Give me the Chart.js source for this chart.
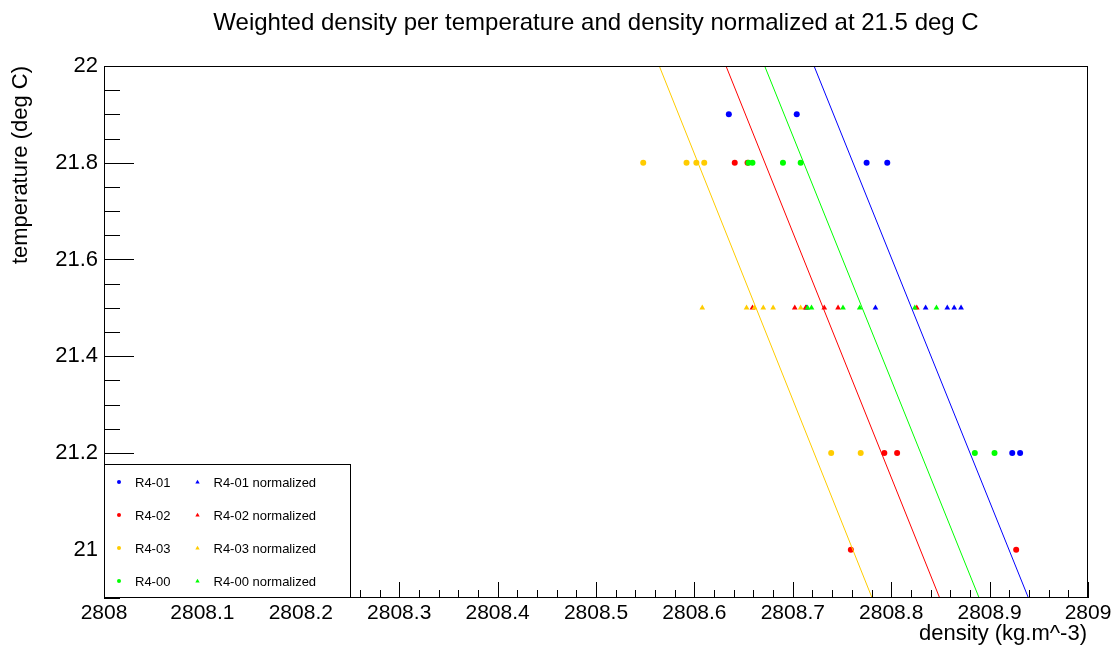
<!DOCTYPE html>
<html>
<head>
<meta charset="utf-8">
<script src="https://cdn.jsdelivr.net/npm/chart.js@4.4.1/dist/chart.umd.min.js"></script>
<style>
  html, body { margin: 0; padding: 0; background: #fff; }
  canvas { display: block; }
</style>
</head>
<body>
<canvas id="chart" width="1115" height="647"></canvas>
<script>
// sensor names, in legend order
const sensors = ["R4-01", "R4-02", "R4-03", "R4-00"];

// measured points: density (kg.m^-3) and temperature (deg C)
const r401Density = [2808.635, 2808.704, 2808.775, 2808.796, 2808.923, 2808.931];
const r401Temp = [21.9, 21.9, 21.8, 21.8, 21.2, 21.2];
const r402Density = [2808.641, 2808.654, 2808.793, 2808.806, 2808.759, 2808.927];
const r402Temp = [21.8, 21.8, 21.2, 21.2, 21.0, 21.0];
const r403Density = [2808.548, 2808.592, 2808.602, 2808.610, 2808.739, 2808.769];
const r403Temp = [21.8, 21.8, 21.8, 21.8, 21.2, 21.2];
const r400Density = [2808.655, 2808.659, 2808.690, 2808.708, 2808.885, 2808.905];
const r400Temp = [21.8, 21.8, 21.8, 21.8, 21.2, 21.2];

// normalized to 21.5 deg C
const normTemp = [21.5, 21.5, 21.5, 21.5, 21.5, 21.5];
const r401NormDensity = [2808.714, 2808.784, 2808.835, 2808.857, 2808.864, 2808.871];
const r402NormDensity = [2808.659, 2808.702, 2808.713, 2808.732, 2808.746, 2808.826];
const r403NormDensity = [2808.608, 2808.653, 2808.661, 2808.670, 2808.680, 2808.708];
const r400NormDensity = [2808.715, 2808.719, 2808.751, 2808.768, 2808.824, 2808.846];

// fitted lines, density at the two temperatures of fitTemp
const fitTemp = [22, 20.9];
const r401Fit = [2808.7216, 2808.9395];
const r402Fit = [2808.6321, 2808.8493];
const r403Fit = [2808.5643, 2808.7806];
const r400Fit = [2808.6714, 2808.8894];

// axis ticks
const xTickLabels = ["2808", "2808.1", "2808.2", "2808.3", "2808.4", "2808.5", "2808.6", "2808.7", "2808.8", "2808.9", "2809"];
const yTickLabels = ["21", "21.2", "21.4", "21.6", "21.8", "22"];

const sensorColors = ["#0000ff", "#ff0000", "#ffcc00", "#00ff00"];
const FONT = "'Liberation Sans', Arial, Helvetica, sans-serif";

const series = [
  { density: r401Density, temp: r401Temp, norm: r401NormDensity, fit: r401Fit },
  { density: r402Density, temp: r402Temp, norm: r402NormDensity, fit: r402Fit },
  { density: r403Density, temp: r403Temp, norm: r403NormDensity, fit: r403Fit },
  { density: r400Density, temp: r400Temp, norm: r400NormDensity, fit: r400Fit }
];

const datasets = [];
series.forEach((s, i) => {
  const c = sensorColors[i];
  datasets.push({
    label: sensors[i],
    data: s.density.map((d, k) => ({ x: d, y: s.temp[k] })),
    pointStyle: "circle",
    pointRadius: 3,
    backgroundColor: c,
    borderColor: c,
    borderWidth: 0,
    showLine: false,
    order: 20 - 2 * i,
    inLegend: true
  });
  datasets.push({
    label: sensors[i] + " normalized",
    data: s.norm.map((d, k) => ({ x: d, y: normTemp[k] })),
    pointStyle: "triangle",
    pointRadius: 3.3,
    backgroundColor: c,
    borderColor: c,
    borderWidth: 0,
    showLine: false,
    order: 19 - 2 * i,
    inLegend: true
  });
  datasets.push({
    label: sensors[i] + " fit",
    data: fitTemp.map((t, k) => ({ x: s.fit[k], y: t })),
    showLine: true,
    pointRadius: 0,
    borderColor: c,
    borderWidth: 1,
    order: 4 - i
  });
});

function drawMarker(ctx, style, x, y, r, color) {
  ctx.fillStyle = color;
  ctx.beginPath();
  if (style === "triangle") {
    ctx.moveTo(x, y - r);
    ctx.lineTo(x + r * 0.95, y + r * 0.6);
    ctx.lineTo(x - r * 0.95, y + r * 0.6);
    ctx.closePath();
  } else {
    ctx.arc(x, y, r, 0, Math.PI * 2);
  }
  ctx.fill();
}

// ROOT-like frame, inner ticks, titles and boxed legend
const rootStyle = {
  id: "rootStyle",
  afterDraw(chart) {
    const { ctx, chartArea: a, scales: { x, y } } = chart;
    ctx.save();

    // x ticks pointing up
    ctx.strokeStyle = "#000";
    ctx.lineWidth = 1;
    const xStep = 0.02;
    const nx = Math.round((x.max - x.min) / xStep);
    for (let k = 0; k <= nx; k++) {
      const px = Math.round(x.getPixelForValue(x.min + k * xStep)) + 0.5;
      const len = k % 5 === 0 ? 16 : 8;
      ctx.beginPath();
      ctx.moveTo(px, a.bottom);
      ctx.lineTo(px, a.bottom - len);
      ctx.stroke();
    }
    // y ticks pointing right
    const yStep = 0.05;
    const ny = Math.round((y.max - y.min) / yStep);
    for (let k = 0; k <= ny; k++) {
      const v = y.min + k * yStep;
      const py = Math.round(y.getPixelForValue(v)) + 0.5;
      const major = Math.abs(v / 0.2 - Math.round(v / 0.2)) < 1e-6;
      ctx.beginPath();
      ctx.moveTo(a.left, py);
      ctx.lineTo(a.left + (major ? 30 : 16), py);
      ctx.stroke();
    }

    // frame
    ctx.strokeRect(a.left + 0.5, a.top + 0.5, a.right - a.left - 1, a.bottom - a.top - 1);

    // titles
    ctx.fillStyle = "#000";
    ctx.font = "24px " + FONT;
    ctx.textAlign = "center";
    ctx.textBaseline = "alphabetic";
    ctx.fillText("Weighted density per temperature and density normalized at 21.5 deg C", (a.left + a.right) / 2, 30);
    ctx.font = "22px " + FONT;
    ctx.textAlign = "right";
    ctx.fillText("density (kg.m^-3)", a.right - 1, 640);
    ctx.save();
    ctx.translate(27, a.top);
    ctx.rotate(-Math.PI / 2);
    ctx.textAlign = "right";
    ctx.fillText("temperature (deg C)", 0, 0);
    ctx.restore();

    // legend box
    const lx = 104.5, ly = 464.5, lw = 246, lh = 133;
    ctx.fillStyle = "#fff";
    ctx.fillRect(lx, ly, lw, lh);
    ctx.strokeStyle = "#000";
    ctx.strokeRect(lx, ly, lw, lh);
    ctx.font = "13px " + FONT;
    ctx.textAlign = "left";
    ctx.textBaseline = "middle";
    const items = chart.data.datasets.filter(d => d.inLegend);
    items.forEach((d, i) => {
      const row = Math.floor(i / 2), col = i % 2;
      const cy = 482 + row * 33;
      const mx = col === 0 ? 119 : 197.5;
      const tx = col === 0 ? 135 : 213.5;
      drawMarker(ctx, d.pointStyle, mx, cy, d.pointStyle === "triangle" ? 2.3 : 2, d.backgroundColor);
      ctx.fillStyle = "#000";
      ctx.fillText(d.label, tx, cy + 1);
    });

    ctx.restore();
  }
};

new Chart(document.getElementById("chart").getContext("2d"), {
  type: "scatter",
  data: { datasets },
  options: {
    responsive: false,
    animation: false,
    devicePixelRatio: 1,
    layout: { padding: { top: 66, right: 27, bottom: 0, left: 0 } },
    plugins: {
      legend: { display: false },
      title: { display: false },
      tooltip: { enabled: false }
    },
    scales: {
      x: {
        type: "linear",
        min: 2808,
        max: 2809,
        afterFit: s => { s.height = 49; },
        afterBuildTicks: s => { s.ticks = xTickLabels.map(l => ({ value: Number(l) })); },
        grid: { display: false, drawTicks: false },
        border: { display: false },
        ticks: {
          autoSkip: false,
          maxRotation: 0,
          padding: 3,
          color: "#000",
          font: { family: FONT, size: 21 },
          callback: v => xTickLabels.find(l => Math.abs(Number(l) - v) < 1e-9) ?? ""
        }
      },
      y: {
        type: "linear",
        min: 20.9,
        max: 22,
        afterFit: s => { s.width = 104; },
        afterBuildTicks: s => { s.ticks = yTickLabels.map(l => ({ value: Number(l) })); },
        grid: { display: false, drawTicks: false },
        border: { display: false },
        ticks: {
          padding: 6,
          color: "#000",
          font: { family: FONT, size: 22 },
          callback: v => yTickLabels.find(l => Math.abs(Number(l) - v) < 1e-9) ?? ""
        }
      }
    }
  },
  plugins: [rootStyle]
});
</script>
</body>
</html>
